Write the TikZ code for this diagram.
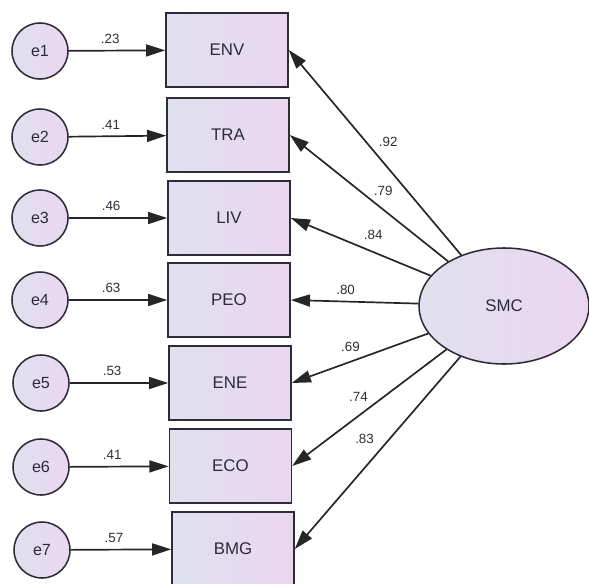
\documentclass[tikz,border=0pt]{standalone}
\usepackage{fontspec}
\setmainfont{Liberation Sans}
\usetikzlibrary{shapes.geometric,arrows.meta}
\tikzset{>={Triangle[width=3mm,length=4.8mm]}}
\definecolor{fillL}{RGB}{223,225,238}
\definecolor{fillR}{RGB}{235,214,242}
\definecolor{ink}{RGB}{45,45,55}

\begin{document}
\begin{tikzpicture}
    \tikzset{err/.style={circle,minimum size=1.4cm,inner sep=0pt,draw=ink,line width=1.1pt,left color=fillL,right color=fillR,text=ink,font=\fontsize{11.5}{13}\selectfont}}
    \tikzset{obs/.style={rectangle,minimum width=3.05cm,minimum height=1.85cm,draw=ink,line width=1.1pt,left color=fillL,right color=fillR,text=ink,font=\fontsize{12}{14}\selectfont}}
    \tikzset{latent/.style={ellipse,minimum width=4.25cm,minimum height=2.9cm,draw=ink,line width=1.1pt,left color=fillL,right color=fillR,text=ink,font=\fontsize{12}{14}\selectfont}}
    \tikzset{coef/.style={text=ink,font=\fontsize{9.5}{11}\selectfont}}
    \tikzset{link/.style={->,line width=1.2pt,draw=black!85}}
    \useasboundingbox (0,0) rectangle (14.725,-14.575);
    % error terms
    \draw (1.0,-1.275) node[err](e1){e1};
    \draw (1.0,-3.425) node[err](e2){e2};
    \draw (1.0,-5.45) node[err](e3){e3};
    \draw (1.0,-7.5) node[err](e4){e4};
    \draw (1.025,-9.575) node[err](e5){e5};
    \draw (1.025,-11.675) node[err](e6){e6};
    \draw (1.05,-13.75) node[err](e7){e7};
    % indicators
    \draw (5.675,-1.25) node[obs](env){ENV};
    \draw (5.7,-3.375) node[obs](tra){TRA};
    \draw (5.725,-5.45) node[obs](liv){LIV};
    \draw (5.725,-7.5) node[obs](peo){PEO};
    \draw (5.75,-9.575) node[obs](ene){ENE};
    \draw (5.76,-11.65) node[obs](eco){ECO};
    \draw (5.825,-13.725) node[obs](bmg){BMG};
    % factor
    \draw (12.6,-7.65) node[latent](smc){SMC};
    % error paths
    \draw[link](e1) -- node[coef,pos=0.43,above=1pt]{.23}(env);
    \draw[link](e2) -- node[coef,pos=0.43,above=1pt]{.41}(tra);
    \draw[link](e3) -- node[coef,pos=0.43,above=1pt]{.46}(liv);
    \draw[link](e4) -- node[coef,pos=0.43,above=1pt]{.63}(peo);
    \draw[link](e5) -- node[coef,pos=0.43,above=1pt]{.53}(ene);
    \draw[link](e6) -- node[coef,pos=0.43,above=1pt]{.41}(eco);
    \draw[link](e7) -- node[coef,pos=0.43,above=1pt]{.57}(bmg);
    % loadings
    \draw[link](smc) -- node[coef,pos=0.55,right=5pt]{.92}(env.east);
    \draw[link](smc) -- node[coef,pos=0.41,above=6pt]{.79}(tra.east);
    \draw[link](smc) -- node[coef,pos=0.41,above=5pt]{.84}(liv.east);
    \draw[link](smc) -- node[coef,pos=0.57,above=1pt]{.80}(peo.east);
    \draw[link](smc) -- node[coef,pos=0.57,above=3pt]{.69}(ene.east);
    \draw[link](smc) -- node[coef,pos=0.57,above=6pt]{.74}(eco.east);
    \draw[link](smc) -- node[coef,pos=0.43,left=7pt]{.83}(bmg.east);
    
\end{tikzpicture}
\end{document}
